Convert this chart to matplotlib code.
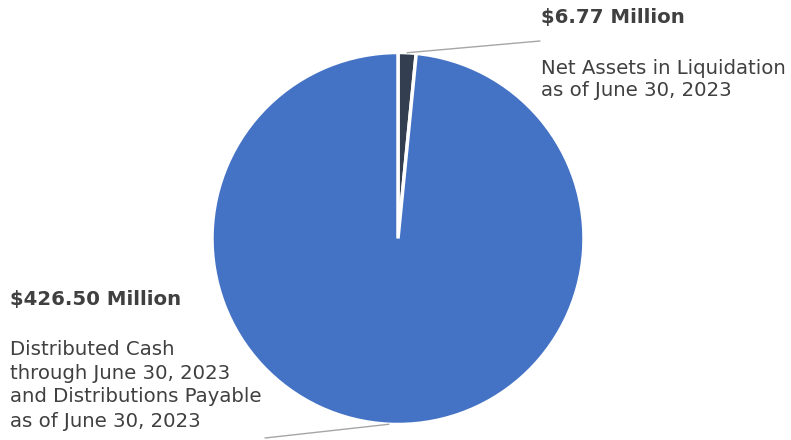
import numpy as np
import matplotlib.pyplot as plt

# values in $ millions
labels = ["Net Assets in Liquidation", "Distributed Cash and Distributions Payable"]
values = [6.77, 426.50]
value_text = ["$6.77 Million", "$426.50 Million"]
desc_text = ["Net Assets in Liquidation\nas of June 30, 2023",
             "Distributed Cash\nthrough June 30, 2023\nand Distributions Payable\nas of June 30, 2023"]
colors = ["#333f50", "#4472c4"]

W, H = 791, 440
fig = plt.figure(figsize=(W / 100, H / 100), dpi=100)

# pie placed by pixel centre / radius
cx, cy, r = 398, 238.5, 186
ax = fig.add_axes([(cx - r) / W, (H - cy - r) / H, 2 * r / W, 2 * r / H])
wedges, _ = ax.pie(values, colors=colors, startangle=90, counterclock=False,
                   radius=1, wedgeprops=dict(edgecolor="white", linewidth=2.5))
ax.set_xlim(-1, 1)
ax.set_ylim(-1, 1)
ax.set_aspect("equal")
ax.axis("off")

# leader lines from slice midpoints to the labels
text_ends = [(540, H - 41), (265, H - 438)]
for w, end in zip(wedges, text_ends):
    mid = np.deg2rad((w.theta1 + w.theta2) / 2)
    ax.annotate("", xy=(np.cos(mid), np.sin(mid)), xycoords="data",
                xytext=end, textcoords="figure pixels",
                arrowprops=dict(arrowstyle="-", color="#a6a6a6", lw=1,
                                shrinkA=0, shrinkB=0))

txt_color = "#404040"
fs = 14.2
# label blocks: (x, title y, first desc line y, line step) in pixels
blocks = [(541, 18, 68, 22.5), (10, 300, 349, 24)]
for (x, ty, dy, step), vt, dt in zip(blocks, value_text, desc_text):
    fig.text(x / W, 1 - ty / H, vt, fontsize=fs, fontweight="bold",
             color=txt_color, va="center", ha="left")
    for i, line in enumerate(dt.split("\n")):
        fig.text(x / W, 1 - (dy + i * step) / H, line, fontsize=fs,
                 color=txt_color, va="center", ha="left")

fig.savefig("out.png", dpi=100)
